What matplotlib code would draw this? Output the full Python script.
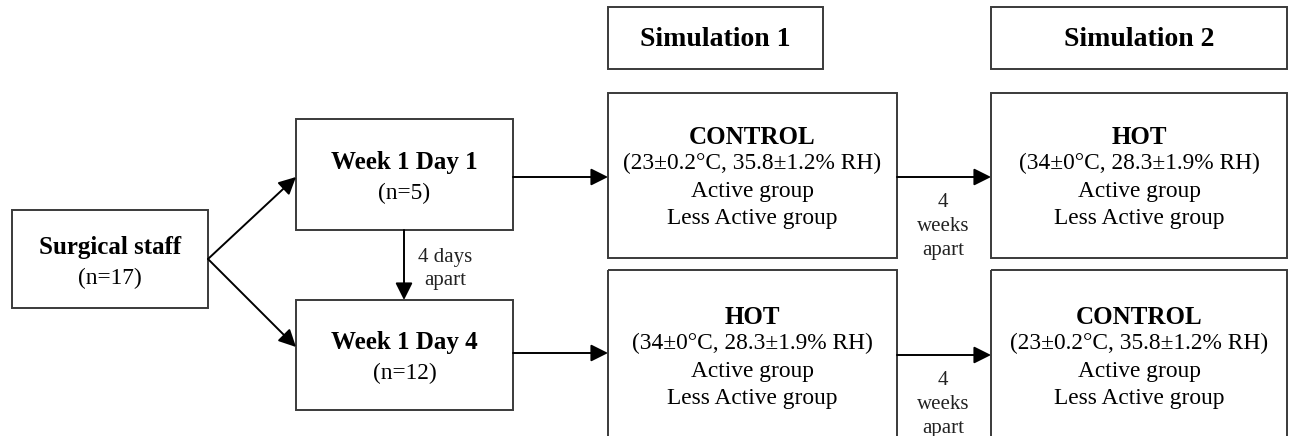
import matplotlib.pyplot as plt
from matplotlib.patches import Rectangle

plt.rcParams['font.family'] = ['Liberation Serif', 'DejaVu Serif']

# box texts: (bold title, regular lines)
judul = ['Surgical staff', 'Week 1 Day 1', 'Week 1 Day 4',
         'CONTROL', 'HOT', 'HOT', 'CONTROL']
baris = [['(n=17)'], ['(n=5)'], ['(n=12)'],
         ['(23\u00b10.2\u00b0C, 35.8\u00b11.2% RH)', 'Active group', 'Less Active group'],
         ['(34\u00b10\u00b0C, 28.3\u00b11.9% RH)', 'Active group', 'Less Active group'],
         ['(34\u00b10\u00b0C, 28.3\u00b11.9% RH)', 'Active group', 'Less Active group'],
         ['(23\u00b10.2\u00b0C, 35.8\u00b11.2% RH)', 'Active group', 'Less Active group']]
header = ['Simulation 1', 'Simulation 2']
jeda_hari = ['4 days', 'apart']
jeda_minggu = ['4', 'weeks', 'apart']

# layout in pixel coords (x0, y0, x1, y1), y downwards
kotak = [(12, 210, 208, 308), (296, 119, 513, 230), (296, 300, 513, 410),
         (608, 93, 897, 258), (991, 93, 1287, 258),
         (608, 270, 897, 445), (991, 270, 1287, 445)]
teks_y = [[247, 278], [162, 193], [342, 373],
          [137, 163, 191, 218], [137, 163, 191, 218],
          [317, 343, 371, 398], [317, 343, 371, 398]]
kotak_header = [(608, 7, 823, 69), (991, 7, 1287, 69)]

fig = plt.figure(figsize=(12.91, 4.36), dpi=100)
ax = fig.add_axes([0, 0, 1, 1])
ax.set_xlim(0, 1291)
ax.set_ylim(436, 0)
ax.axis('off')

garis = '#3a3a3a'

def gambar_kotak(b):
    x0, y0, x1, y1 = b
    ax.add_patch(Rectangle((x0, y0), x1 - x0, y1 - y0, fill=False,
                           edgecolor=garis, lw=1.4, clip_on=False))

for b, s in zip(kotak_header, header):
    gambar_kotak(b)
    ax.text((b[0] + b[2]) / 2, (b[1] + b[3]) / 2 + 1, s, ha='center', va='center',
            fontsize=20, fontweight='bold')

for b, j, bs, ys in zip(kotak, judul, baris, teks_y):
    gambar_kotak(b)
    cx = (b[0] + b[2]) / 2
    ax.text(cx, ys[0], j, ha='center', va='center', fontsize=18, fontweight='bold')
    for s, y in zip(bs, ys[1:]):
        ax.text(cx, y, s, ha='center', va='center', fontsize=16.8)

def panah(x0, y0, x1, y1):
    ax.annotate('', xy=(x1, y1), xytext=(x0, y0),
                arrowprops=dict(arrowstyle='-|>', color='black', lw=1.4,
                                mutation_scale=26, shrinkA=0, shrinkB=0))

panah(208, 259, 296, 177)
panah(208, 259, 296, 347)
panah(404, 230, 404, 300)
panah(513, 177, 608, 177)
panah(513, 353, 608, 353)
panah(897, 177, 991, 177)
panah(897, 355, 991, 355)

for s, y in zip(jeda_hari, [257, 280]):
    ax.text(445, y, s, ha='center', va='center', fontsize=15, color='#222222')
for y0 in [202, 380]:
    for i, s in enumerate(jeda_minggu):
        ax.text(943, y0 + 24 * i, s, ha='center', va='center', fontsize=15,
                color='#222222')

fig.savefig('out.png', dpi=100)
